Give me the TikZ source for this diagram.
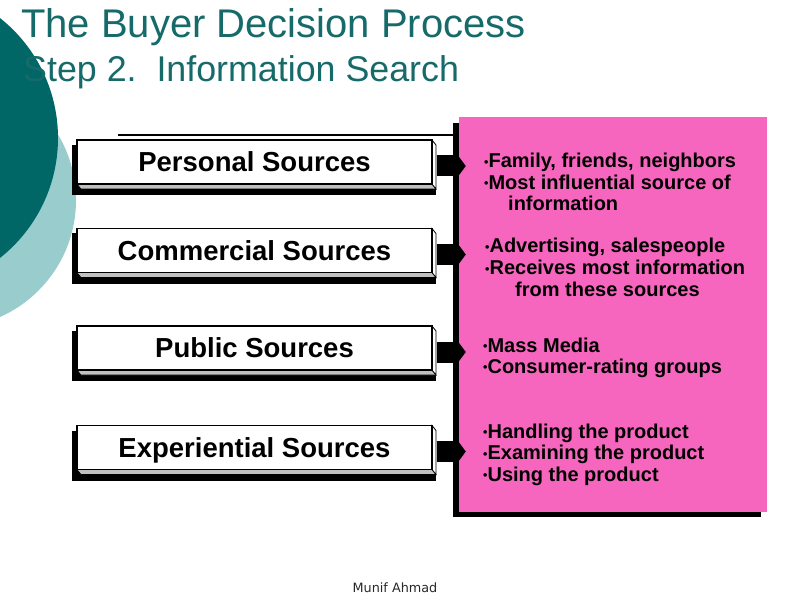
\documentclass[tikz,border=0pt]{standalone}
\usepackage{fontspec}
\setmainfont{Liberation Sans}
\newfontfamily\footfont{DejaVu Sans}
\usetikzlibrary{arrows.meta,calc}
\definecolor{tealdark}{RGB}{0,102,102}
\definecolor{teallight}{RGB}{153,204,204}
\definecolor{titlecol}{RGB}{22,106,106}
\definecolor{pinkpanel}{RGB}{247,102,190}
\definecolor{bevelgray}{RGB}{192,192,192}
\definecolor{footcol}{RGB}{40,40,40}
\newcommand{\bul}{\raisebox{1.5pt}{\fontsize{12.5}{12}\selectfont •}}
\newcommand{\srcrow}[3]{%
  \fill[black] (72,{#2-17}) rectangle (436,{#2+33});
  \filldraw[fill=bevelgray,draw=black,line width=0.6pt] (77,{#2+22}) -- (81,{#2+27}) -- (436,{#2+27}) -- (432,{#2+22}) -- cycle;
  \filldraw[fill=white,draw=black,line width=0.8pt] (432,{#2-22}) -- (436,{#2-17}) -- (436,{#2+27}) -- (432,{#2+22}) -- cycle;
  \node[srcface] (#1) at (254.5,#2) {#3};
  \draw[blockarr] ($(#1.east)+(4,4)$) -- ($(pink.west |- #1.east)+(7,4)$);
}
\begin{document}
\begin{tikzpicture}[x=1pt,y=-1pt,
  srcface/.style={draw=black,line width=1.2pt,fill=white,minimum width=355pt,minimum height=44pt,
    inner sep=0pt,text height=19.7pt,text depth=0pt,font=\bfseries\fontsize{27.5}{30}\selectfont},
  blockarr/.style={line width=21pt,draw=black,-{Triangle[width=29pt,length=11pt]}},
  rtext/.style={anchor=base west,inner sep=0pt,font=\bfseries\fontsize{20}{22}\selectfont,text=black},
  titletext/.style={anchor=base west,inner sep=0pt,text=titlecol}]
\useasboundingbox (0,0) rectangle (792,612);
\clip (0,0) rectangle (792,612);
\fill[white] (0,0) rectangle (792,612);
% decorative circles
\fill[teallight] (-52,200) circle[radius=128];
\fill[tealdark] (-95,138) circle[radius=153];
% titles
\node[titletext,font=\fontsize{40}{46}\selectfont] (title) at (21,38) {The Buyer Decision Process};
\node[titletext,font=\fontsize{35.8}{40}\selectfont] (subtitle) at (23,82) {Step 2.\ \ Information Search};
% top rule
\coordinate (tl1) at (118,135);
\coordinate (tl2) at (453,135);
\draw[line width=1.6pt] (tl1) -- (tl2);
% pink panel
\fill[black] (453,123) rectangle (761,517);
\node[fill=pinkpanel,draw=none,minimum width=308pt,minimum height=395pt,inner sep=0pt] (pink) at (613,314.5) {};
% source rows
\srcrow{b1}{162}{Personal Sources}
\srcrow{b2}{250.5}{Commercial Sources}
\srcrow{b3}{348}{Public Sources}
\srcrow{b4}{447.5}{Experiential Sources}
% right texts
\node[rtext] (t1a) at (484,168) {\bul Family, friends, neighbors};
\node[rtext] (t1b) at (484,189.5) {\bul Most influential source of};
\node[rtext] (t1c) at (508,211) {information};
\node[rtext] (t2a) at (485,253) {\bul Advertising, salespeople};
\node[rtext] (t2b) at (485,274.5) {\bul Receives most information};
\node[rtext] (t2c) at (515,296) {from these sources};
\node[rtext] (t3a) at (483,352) {\bul Mass Media};
\node[rtext] (t3b) at (483,373) {\bul Consumer-rating groups};
\node[rtext] (t4a) at (483,438) {\bul Handling the product};
\node[rtext] (t4b) at (483,459.5) {\bul Examining the product};
\node[rtext] (t4c) at (483,481) {\bul Using the product};
% footer
\node[anchor=base,inner sep=0pt,text=footcol,font=\footfont\fontsize{12.8}{14}\selectfont] (foot) at (395,592) {Munif Ahmad};
\end{tikzpicture}
\end{document}
